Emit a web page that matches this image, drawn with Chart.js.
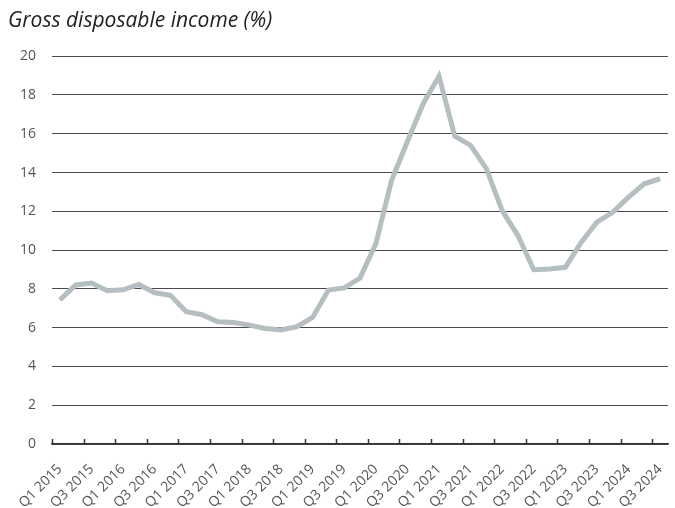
<!DOCTYPE html>
<html>
<head>
<meta charset="utf-8">
<script src="https://cdn.jsdelivr.net/npm/chart.js@4/dist/chart.umd.min.js"></script>
<style>
  html, body { margin: 0; padding: 0; background: #fff; }
  #wrap { width: 675px; height: 508px; }
</style>
</head>
<body>
<div id="wrap"><canvas id="incomeChart" width="675" height="508"></canvas></div>
<script>
// --- data ---
const quarters = [
  'Q1 2015', 'Q2 2015', 'Q3 2015', 'Q4 2015',
  'Q1 2016', 'Q2 2016', 'Q3 2016', 'Q4 2016',
  'Q1 2017', 'Q2 2017', 'Q3 2017', 'Q4 2017',
  'Q1 2018', 'Q2 2018', 'Q3 2018', 'Q4 2018',
  'Q1 2019', 'Q2 2019', 'Q3 2019', 'Q4 2019',
  'Q1 2020', 'Q2 2020', 'Q3 2020', 'Q4 2020',
  'Q1 2021', 'Q2 2021', 'Q3 2021', 'Q4 2021',
  'Q1 2022', 'Q2 2022', 'Q3 2022', 'Q4 2022',
  'Q1 2023', 'Q2 2023', 'Q3 2023', 'Q4 2023',
  'Q1 2024', 'Q2 2024', 'Q3 2024'
];
const incomeGrowth = [
  7.43, 8.2, 8.3, 7.9, 7.95, 8.23, 7.8, 7.67,
  6.82, 6.67, 6.3, 6.27, 6.13, 5.96, 5.88, 6.05,
  6.53, 7.94, 8.05, 8.56, 10.32, 13.6, 15.6, 17.55,
  18.97, 15.88, 15.4, 14.2, 12.04, 10.75, 8.99, 9.03,
  9.11, 10.4, 11.44, 11.95, 12.73, 13.42, 13.68
];
const yTicks = [0, 2, 4, 6, 8, 10, 12, 14, 16, 18, 20];

// tick marks pointing up into the plot, at the left edge of every other quarter
const upTicks = {
  id: 'upTicks',
  afterDatasetsDraw(chart) {
    const x = chart.scales.x;
    const ctx = chart.ctx;
    const half = (x.getPixelForValue(1) - x.getPixelForValue(0)) / 2;
    ctx.save();
    ctx.strokeStyle = '#333';
    ctx.lineWidth = 1.5;
    for (let i = 0; i < quarters.length; i += 2) {
      const px = Math.round(x.getPixelForValue(i) - half) + 0.5;
      ctx.beginPath();
      ctx.moveTo(px, x.top);
      ctx.lineTo(px, x.top - 5);
      ctx.stroke();
    }
    ctx.restore();
  }
};

const ctx = document.getElementById('incomeChart').getContext('2d');
new Chart(ctx, {
  type: 'line',
  data: {
    labels: quarters,
    datasets: [{
      label: 'Gross disposable income (%)',
      data: incomeGrowth,
      borderColor: '#b5bfc1',
      borderWidth: 5,
      pointRadius: 0,
      tension: 0,
      fill: false
    }]
  },
  options: {
    responsive: false,
    animation: false,
    layout: { padding: { left: 8, right: 7, top: 0, bottom: 0 } },
    plugins: {
      legend: { display: false },
      tooltip: { enabled: false },
      title: {
        display: true,
        text: 'Gross disposable income (%)',
        align: 'start',
        color: '#222',
        font: { family: '"Open Sans", "Noto Sans", sans-serif', size: 21, style: 'italic', weight: 'normal', lineHeight: 1.2 },
        padding: { top: 8, bottom: 23 }
      }
    },
    scales: {
      x: {
        offset: true,
        grid: { display: false, offset: true },
        border: { display: true, color: '#333', width: 1.5 },
        ticks: {
          autoSkip: false,
          minRotation: 45,
          maxRotation: 45,
          padding: 9,
          color: '#555',
          font: { family: '"Open Sans", "Noto Sans", sans-serif', size: 14 },
          callback: (v, i) => (i % 2 === 0 ? quarters[i] : '')
        },
        afterFit: (s) => { s.height = 64; s.paddingRight = 0; s.paddingLeft = 0; }
      },
      y: {
        min: 0,
        max: 20,
        afterBuildTicks: (s) => { s.ticks = yTicks.map(v => ({ value: v })); },
        grid: { color: '#4a4a4a', lineWidth: 1, drawTicks: false },
        border: { display: false },
        ticks: {
          padding: 16,
          color: '#555',
          font: { family: '"Open Sans", "Noto Sans", sans-serif', size: 14 }
        },
        afterFit: (s) => { s.width = 44; }
      }
    }
  },
  plugins: [upTicks]
});
</script>
</body>
</html>
